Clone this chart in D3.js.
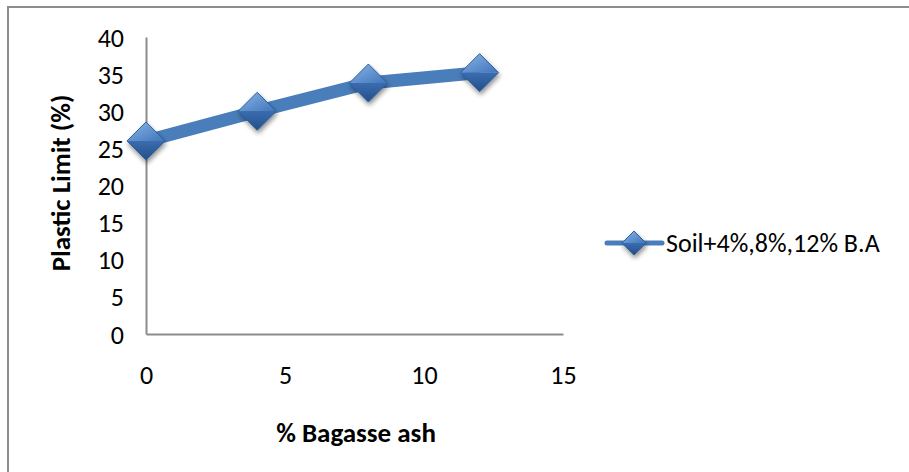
<!DOCTYPE html>
<html><head><meta charset="utf-8">
<script src="https://cdn.jsdelivr.net/npm/d3@7"></script>
<style>body{margin:0;background:#fff}svg{display:block}text{font-family:Carlito,"Open Sans","Noto Sans",sans-serif;fill:#000}</style>
</head><body>
<svg id="c" width="909" height="472"></svg>
<script>
const xValues = [0, 4, 8, 12];
const plasticLimit = [26, 30, 33.8, 35.2];
const xTicks = [0, 5, 10, 15];
const yTicks = [0, 5, 10, 15, 20, 25, 30, 35, 40];
const seriesName = "Soil+4%,8%,12% B.A";
const xTitle = "% Bagasse ash";
const yTitle = "Plastic Limit (%)";

const svg = d3.select("#c");
const x = d3.scaleLinear().domain([0, 15]).range([146, 563]);
const y = d3.scaleLinear().domain([0, 40]).range([334, 37]);

const defs = svg.append("defs");
const gl = defs.append("linearGradient").attr("id","gl").attr("x1",0).attr("y1",0).attr("x2",1).attr("y2",1);
gl.append("stop").attr("offset",0).attr("stop-color","#8ab6ea");
gl.append("stop").attr("offset",1).attr("stop-color","#3f74b8");
const gd = defs.append("linearGradient").attr("id","gd").attr("x1",0).attr("y1",0).attr("x2",0).attr("y2",1);
gd.append("stop").attr("offset",0).attr("stop-color","#3a6db0");
gd.append("stop").attr("offset",1).attr("stop-color","#234f8a");
const f = defs.append("filter").attr("id","sh").attr("x","-50%").attr("y","-50%").attr("width","200%").attr("height","200%");
f.append("feGaussianBlur").attr("in","SourceAlpha").attr("stdDeviation",2.5);
f.append("feOffset").attr("dx",1).attr("dy",3).attr("result","b");
f.append("feComponentTransfer").append("feFuncA").attr("type","linear").attr("slope",0.45);
const fm = f.append("feMerge"); fm.append("feMergeNode"); fm.append("feMergeNode").attr("in","SourceGraphic");

// frame (only top and left visible)
svg.append("rect").attr("x",8).attr("y",7).attr("width",920).attr("height",480)
  .attr("fill","none").attr("stroke","#8c8c8c").attr("stroke-width",2);

// axes
const yAxis = svg.append("g").attr("transform",`translate(${x(0)},0)`)
  .call(d3.axisLeft(y).tickValues(yTicks).tickSize(0).tickPadding(22));
const xAxis = svg.append("g").attr("transform",`translate(0,${y(0)})`)
  .call(d3.axisBottom(x).tickValues(xTicks).tickSize(0).tickPadding(32));
[yAxis, xAxis].forEach(a => {
  a.select(".domain").attr("stroke","#8c8c8c").attr("stroke-width",2);
  a.selectAll("text").style("font-size","26px").style("font-family","Carlito,'Open Sans',sans-serif").attr("fill","#000");
});
yAxis.selectAll("text").attr("dy","0.35em");

// titles
svg.append("text").attr("x",356).attr("y",442).attr("text-anchor","middle")
  .style("font-size","27px").style("font-weight","bold").text(xTitle);
svg.append("text").attr("transform","translate(70,183) rotate(-90)").attr("text-anchor","middle")
  .style("font-size","27px").style("font-weight","bold").text(yTitle);

// line
const pts = xValues.map((v,i)=>[x(v), y(plasticLimit[i])]);
svg.append("path").attr("d", d3.line()(pts)).attr("fill","none")
  .attr("stroke","#4a7ebb").attr("stroke-width",13).attr("stroke-linejoin","round");

function diamond(g, cx, cy, r){
  const gg = g.append("g").attr("transform",`translate(${cx},${cy})`).attr("filter","url(#sh)");
  gg.append("path").attr("d",`M${-r},0L0,${-r}L${r},0Z`).attr("fill","url(#gl)");
  gg.append("path").attr("d",`M${-r},0L0,${r}L${r},0Z`).attr("fill","url(#gd)");
  gg.append("path").attr("d",`M${-r},0L0,${-r}L${r},0L0,${r}Z`).attr("fill","none").attr("stroke","#2d5f9e").attr("stroke-width",1);
}
const mg = svg.append("g");
pts.forEach(p => diamond(mg, p[0], p[1], 19));

// legend
svg.append("line").attr("x1",607).attr("x2",662).attr("y1",243).attr("y2",243)
  .attr("stroke","#4a7ebb").attr("stroke-width",5).attr("stroke-linecap","round");
diamond(svg, 634, 243, 12);
svg.append("text").attr("x",666).attr("y",243).attr("dy","0.35em").style("font-size","26px").text(seriesName);
</script>
</body></html>
